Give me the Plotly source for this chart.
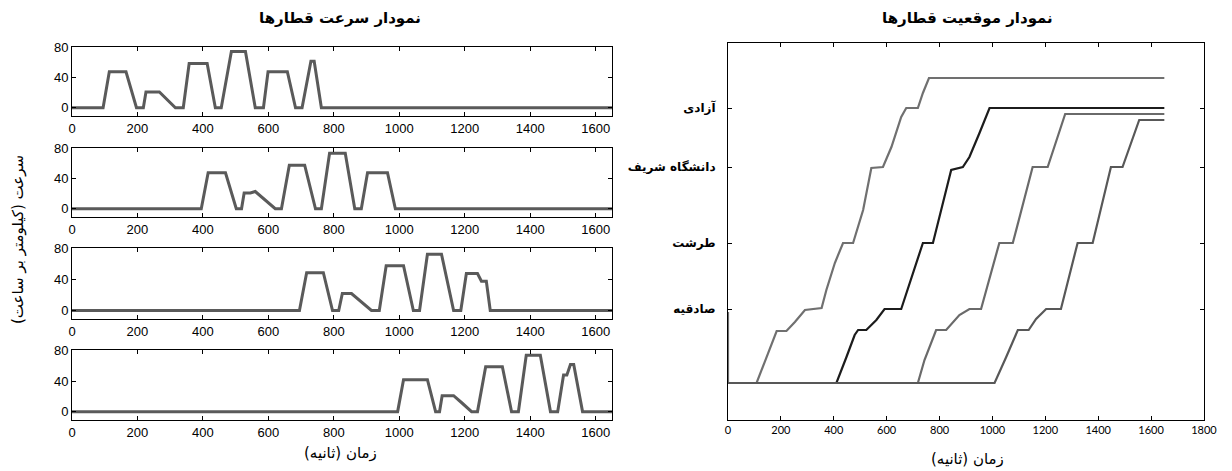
import plotly.graph_objects as go

# ---------------- data ----------------
# speed (km/h) vs time (s) for the four trains
speed_t1 = [0, 95, 114, 165, 197, 218, 226, 267, 316, 340, 358, 413, 438, 456, 487, 530, 560, 585, 599, 658, 683, 703, 730, 740, 762, 1650]
speed_v1 = [0, 0, 48, 48, 0, 0, 21, 21, 0, 0, 59, 59, 0, 0, 75, 75, 0, 0, 48, 48, 0, 0, 62, 62, 0, 0]

speed_t2 = [0, 395, 416, 469, 502, 518, 526, 545, 560, 621, 640, 664, 711, 744, 762, 787, 835, 864, 884, 903, 964, 988, 1650]
speed_v2 = [0, 0, 48, 48, 0, 0, 21, 21, 23, 0, 0, 58, 58, 0, 0, 74, 74, 0, 0, 48, 48, 0, 0]

speed_t3 = [0, 695, 717, 768, 796, 815, 826, 854, 915, 939, 960, 1013, 1043, 1062, 1086, 1129, 1166, 1188, 1205, 1239, 1251, 1266, 1278, 1650]
speed_v3 = [0, 0, 49, 49, 0, 0, 22, 22, 0, 0, 58, 58, 0, 0, 73, 73, 0, 0, 48, 48, 38, 38, 0, 0]

speed_t4 = [0, 995, 1013, 1086, 1111, 1123, 1131, 1166, 1190, 1221, 1239, 1264, 1315, 1343, 1364, 1388, 1431, 1462, 1484, 1502, 1512, 1523, 1533, 1560, 1650]
speed_v4 = [0, 0, 42, 42, 0, 0, 21, 21, 12, 0, 0, 59, 59, 0, 0, 74, 74, 0, 0, 48, 48, 62, 62, 0, 0]

# position (arbitrary track units) vs time (s)
pos_t1 = [0, 0, 108, 146, 184, 221, 253, 291, 354, 372, 404, 435, 473, 511, 542, 586, 618, 655, 674, 718, 737, 760, 1650]
pos_y1 = [71, 0, 0, 26, 52, 52, 61, 73, 75, 93, 120, 140, 140, 173, 215, 216, 236, 266, 275, 275, 290, 305, 305]

pos_t2 = [0, 410, 448, 479, 492, 523, 561, 592, 655, 737, 775, 800, 844, 888, 913, 951, 989, 1650]
pos_y2 = [0, 0, 26, 48, 53, 53, 63, 74, 74, 140, 140, 166, 213, 216, 226, 250, 275, 275]

pos_t3 = [0, 718, 743, 787, 825, 850, 875, 913, 957, 1026, 1077, 1152, 1209, 1275, 1650]
pos_y3 = [0, 0, 23, 53, 53, 60, 68, 74, 74, 140, 140, 216, 216, 269, 269]

pos_t4 = [0, 1008, 1052, 1096, 1137, 1165, 1203, 1259, 1322, 1379, 1448, 1492, 1555, 1650]
pos_y4 = [0, 0, 26, 53, 53, 64, 74, 74, 140, 140, 216, 216, 263, 263]

station_pos = [74, 140, 216, 275]
station_names = ["صادقیه", "طرشت", "دانشگاه شریف", "آزادی"]

speed_ticks = [0, 40, 80]
time_ticks = [0, 200, 400, 600, 800, 1000, 1200, 1400, 1600]
time_ticks_right = [0, 200, 400, 600, 800, 1000, 1200, 1400, 1600, 1800]

# ---------------- figure ----------------
# the page body adds an 8px offset, so the figure is sized to the remaining area
OFF = 8
W, H = 1232 - OFF, 471 - OFF


def px(x):
    return (x - OFF) / W


def py(y):
    return 1 - (y - OFF) / H


fig = go.Figure()

speed_sets = [(speed_t1, speed_v1), (speed_t2, speed_v2), (speed_t3, speed_v3), (speed_t4, speed_v4)]
for i, (t, v) in enumerate(speed_sets):
    n = i + 1
    fig.add_trace(go.Scatter(x=t, y=v, mode="lines",
                             line=dict(color="#5a5a5a", width=3),
                             xaxis="x" if n == 1 else f"x{n}",
                             yaxis="y" if n == 1 else f"y{n}",
                             showlegend=False, hoverinfo="skip"))

pos_sets = [(pos_t1, pos_y1, "#707070"), (pos_t2, pos_y2, "#1c1c1c"),
            (pos_t3, pos_y3, "#6a6a6a"), (pos_t4, pos_y4, "#585858")]
for t, y, c in pos_sets:
    fig.add_trace(go.Scatter(x=t, y=y, mode="lines", line=dict(color=c, width=2.2),
                             xaxis="x5", yaxis="y5", showlegend=False, hoverinfo="skip"))

common = dict(showline=True, linecolor="black", linewidth=1, mirror="ticks",
              ticks="inside", ticklen=4, tickcolor="black", showgrid=False, zeroline=False,
              automargin=False, fixedrange=True)

tick_font = dict(family="Liberation Sans, Arial, sans-serif", size=13, color="black")

xdom_left = [px(72), px(612)]
tops = [47, 148, 248, 350]
bots = [116, 217, 319, 420]

layout = dict(width=W, height=H, autosize=False, margin=dict(l=0, r=0, t=0, b=0, pad=0),
              paper_bgcolor="white", plot_bgcolor="white", showlegend=False)

for i in range(4):
    n = i + 1
    xk = "xaxis" if n == 1 else f"xaxis{n}"
    yk = "yaxis" if n == 1 else f"yaxis{n}"
    ya = "y" if n == 1 else f"y{n}"
    xa = "x" if n == 1 else f"x{n}"
    layout[xk] = dict(domain=xdom_left, range=[0, 1650], tickvals=time_ticks,
                      anchor=ya, tickfont=tick_font, **common)
    layout[yk] = dict(domain=[py(bots[i]), py(tops[i])], range=[-11, 81],
                      tickvals=speed_ticks, anchor=xa, tickfont=tick_font, **common)

layout["xaxis5"] = dict(domain=[px(728), px(1204)], range=[0, 1800], tickvals=time_ticks_right,
                        anchor="y5", tickfont=dict(family="Lato, Liberation Sans, sans-serif", size=11, color="black"),
                        **common)
layout["yaxis5"] = dict(domain=[py(420), py(43)], range=[-37, 340],
                        tickvals=station_pos, ticktext=[f"<b>{s}</b>" for s in station_names],
                        ticklabelstandoff=9,
                        anchor="x5", tickfont=dict(family="DejaVu Sans, sans-serif", size=12, color="black"),
                        **common)

fa = "DejaVu Sans, sans-serif"
annotations = [
    dict(text="<b>نمودار سرعت قطارها</b>", x=px(340), y=py(18), xref="paper", yref="paper",
         showarrow=False, font=dict(family=fa, size=15, color="black"), xanchor="center", yanchor="middle"),
    dict(text="<b>نمودار موقعیت قطارها</b>", x=px(967), y=py(18), xref="paper", yref="paper",
         showarrow=False, font=dict(family=fa, size=15, color="black"), xanchor="center", yanchor="middle"),
    dict(text="زمان (ثانیه)", x=px(340), y=py(453), xref="paper", yref="paper",
         showarrow=False, font=dict(family=fa, size=15, color="black"), xanchor="center", yanchor="middle"),
    dict(text="زمان (ثانیه)", x=px(967), y=py(459), xref="paper", yref="paper",
         showarrow=False, font=dict(family=fa, size=15, color="black"), xanchor="center", yanchor="middle"),
    dict(text="سرعت (کیلومتر بر ساعت)", x=px(18), y=py(240), xref="paper", yref="paper",
         showarrow=False, textangle=-90, font=dict(family=fa, size=15, color="black"),
         xanchor="center", yanchor="middle"),
]
layout["annotations"] = annotations

fig.update_layout(**layout)
fig.write_html("out.html")
